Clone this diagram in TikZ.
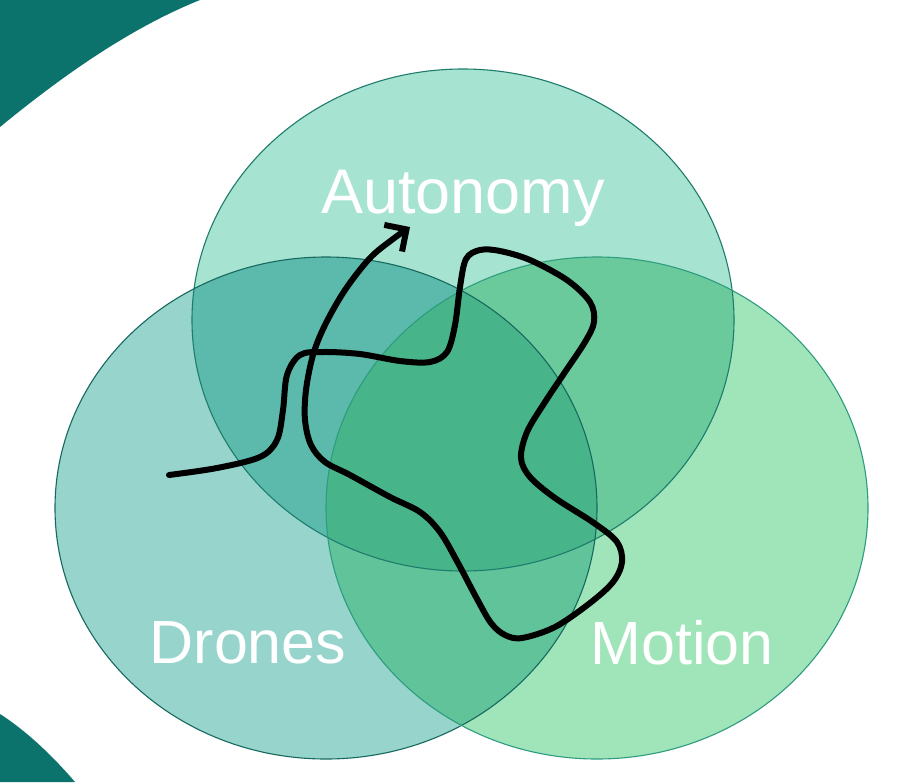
\documentclass[tikz,border=0pt]{standalone}
\usepackage{fontspec}
\setmainfont{Liberation Sans}
\usetikzlibrary{arrows.meta}

% palette
\definecolor{bgteal}{HTML}{0B736C}
\definecolor{autfill}{HTML}{A6E3D1}
\definecolor{drofill}{HTML}{96D4CC}
\definecolor{motfill}{HTML}{A0E5BA}
\definecolor{adfill}{HTML}{5BBAAC}
\definecolor{amfill}{HTML}{6BCA9B}
\definecolor{dmfill}{HTML}{60C39A}
\definecolor{admfill}{HTML}{47B489}
\definecolor{autline}{HTML}{1E7C6C}
\definecolor{droline}{HTML}{17695F}
\definecolor{motline}{HTML}{2E9C7E}

% the three sets
\newcommand\ellAut{(463,320) ellipse [x radius=271, y radius=251]}
\newcommand\ellDro{(326,508) ellipse [x radius=271, y radius=251]}
\newcommand\ellMot{(597,508) ellipse [x radius=271, y radius=251]}

\tikzset{
  setlabel/.style={text=white, anchor=base, inner sep=0pt},
  rim/.style={line width=1.1pt},
  journey/.style={line width=6pt, line cap=round, line join=round,
                  -{Straight Barb[length=16pt, width=32pt, line width=6pt]}}
}

\begin{document}
\begin{tikzpicture}[x=1pt, y=-1pt]
\useasboundingbox (0,0) rectangle (915,782);
\fill[white] (0,0) rectangle (915,782);

% dark teal corner bands
\fill[bgteal] (0,0) -- (200,0) .. controls (133,27) and (67,72) .. (0,127) -- cycle;
\fill[bgteal] (0,782) -- (0,714) .. controls (25,730) and (51,754) .. (75,782) -- cycle;

% single-set regions
\fill[autfill] \ellAut;
\fill[drofill] \ellDro;
\fill[motfill] \ellMot;

% pairwise overlaps
\begin{scope}\clip \ellAut; \fill[adfill] \ellDro; \end{scope}
\begin{scope}\clip \ellAut; \fill[amfill] \ellMot; \end{scope}
\begin{scope}\clip \ellDro; \fill[dmfill] \ellMot; \end{scope}
% common core
\begin{scope}\clip \ellAut; \clip \ellDro; \fill[admfill] \ellMot; \end{scope}

% outlines
\draw[rim, autline] \ellAut;
\draw[rim, droline] \ellDro;
\draw[rim, motline] \ellMot;

% labels
\node[setlabel, font=\fontsize{63}{70}\selectfont] (aut) at (463,213) {Autonomy};
\node[setlabel, font=\fontsize{61}{70}\selectfont] (dro) at (248,663) {Drones};
\node[setlabel, font=\fontsize{61}{70}\selectfont] (mot) at (682,664) {Motion};

% winding path ending in an arrow
\draw[journey] plot[smooth, tension=0.55] coordinates {
  (169,475) (217,468) (260,457) (277,440) (283,410) (287,375) (300,355)
  (323,352) (360,354) (400,361) (430,362) (447,352) (455,325) (460,287)
  (466,259) (480,250) (500,251) (530,260) (567,280) (590,302) (594,322)
  (585,342) (565,372) (545,402) (527,432) (521,458) (530,477) (555,498)
  (594,523) (617,542) (622,562) (613,582) (590,603) (555,627) (522,638)
  (505,635) (491,623) (476,597) (458,563) (440,532) (420,512) (390,497)
  (350,475) (325,462) (311,445) (305,420) (306,390) (313,355) (325,325)
  (345,290) (370,258) (393,239) (410,227)};
\end{tikzpicture}
\end{document}
